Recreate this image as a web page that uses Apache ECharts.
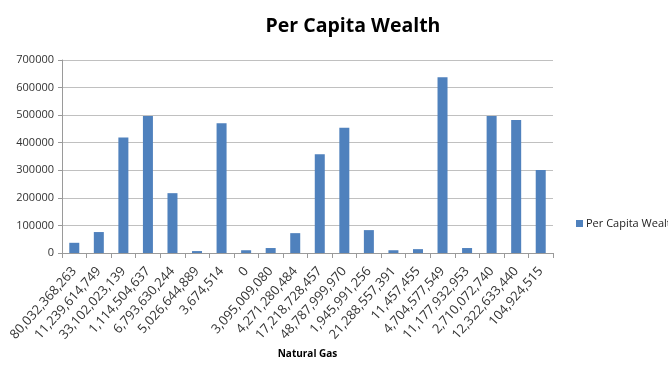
<!DOCTYPE html>
<html>
<head>
<meta charset="utf-8">
<script src="https://cdn.jsdelivr.net/npm/echarts@6/dist/echarts.min.js"></script>
<style>
  html, body { margin: 0; padding: 0; background: #fff; }
  #chart { width: 668px; height: 365px; }
</style>
</head>
<body>
<div id="chart"></div>
<script>
// Natural gas figures used as category labels
const categories = [
  '80,032,368,263', '11,239,614,749', '33,102,023,139', '1,114,504,637',
  '6,793,630,244', '5,026,644,889', '3,674,514', '0', '3,095,009,080',
  '4,271,280,484', '17,218,728,457', '48,787,999,970', '1,945,991,256',
  '21,288,557,391', '11,457,455', '4,704,577,549', '11,177,932,953',
  '2,710,072,740', '12,322,633,440', '104,924,515'
];

// Per capita wealth for each category
const perCapitaWealth = [
  37000, 76000, 419000, 497000, 217000, 7000, 471000, 10000, 18000,
  72000, 358000, 454000, 83000, 10000, 14000, 637000, 18000, 497000,
  482000, 301000
];

const yTicks = [0, 100000, 200000, 300000, 400000, 500000, 600000, 700000];

const chart = echarts.init(document.getElementById('chart'));
const font = '"Open Sans", "Liberation Sans", sans-serif';

chart.setOption({
  animation: false,
  backgroundColor: '#ffffff',
  title: {
    text: 'Per Capita Wealth',
    left: 348,
    textAlign: 'center',
    top: 11,
    textStyle: { fontFamily: font, fontSize: 19.5, fontWeight: 'bold', color: '#000' }
  },
  legend: {
    left: 571,
    top: 213,
    orient: 'vertical',
    icon: 'rect',
    itemWidth: 7,
    itemHeight: 7,
    itemGap: 4,
    textStyle: { fontFamily: font, fontSize: 11, color: '#222', padding: [0, 0, 0, -2] },
    data: ['Per Capita Wealth']
  },
  grid: {
    left: 62, right: 115, top: 60, bottom: 112,
    containLabel: false,
    outerBoundsMode: 'none'
  },
  xAxis: {
    type: 'category',
    data: categories,
    name: 'Natural Gas',
    nameLocation: 'middle',
    nameGap: 96,
    nameTextStyle: { fontFamily: font, fontSize: 10, fontWeight: 'bold', color: '#000' },
    axisLine: { lineStyle: { color: '#9a9a9a' } },
    axisTick: { show: true, alignWithLabel: false, length: 5, lineStyle: { color: '#9a9a9a' } },
    axisLabel: {
      interval: 0,
      rotate: 48,
      margin: 16,
      fontFamily: font,
      fontSize: 13,
      color: '#333'
    }
  },
  yAxis: {
    type: 'value',
    min: 0,
    max: 700000,
    interval: 100000,
    axisLine: { show: true, lineStyle: { color: '#9a9a9a' } },
    axisTick: { show: true, length: 4, lineStyle: { color: '#9a9a9a' } },
    axisLabel: {
      margin: 8,
      fontFamily: font,
      fontSize: 11,
      color: '#333',
      formatter: v => (yTicks.includes(v) ? String(v) : '')
    },
    splitLine: { lineStyle: { color: '#c0c0c0' } }
  },
  series: [{
    name: 'Per Capita Wealth',
    type: 'bar',
    data: perCapitaWealth,
    barWidth: 10,
    itemStyle: { color: '#4f81bd' }
  }]
});
</script>
</body>
</html>
